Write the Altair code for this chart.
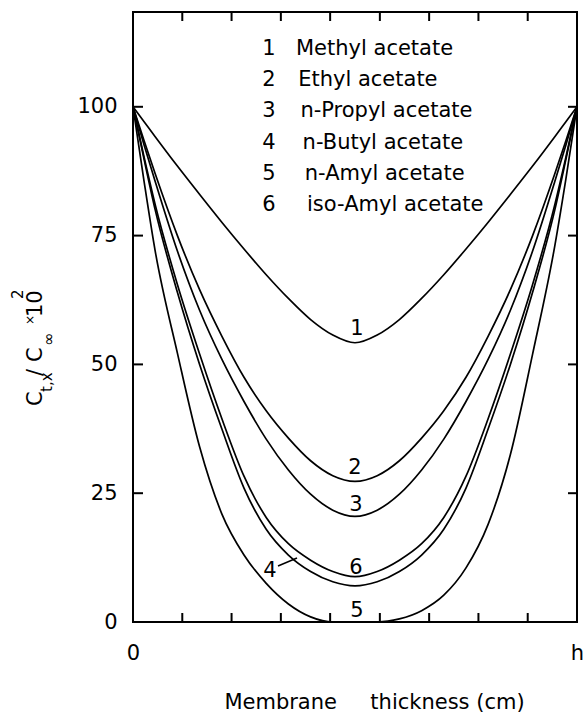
import altair as alt
import pandas as pd

# Position across the membrane, as a fraction of the thickness h
frac = [0.0, 0.025, 0.05, 0.10, 0.15, 0.20, 0.25, 0.30, 0.35, 0.40, 0.45, 0.50,
        0.55, 0.60, 0.65, 0.70, 0.75, 0.80, 0.85, 0.90, 0.95, 0.975, 1.0]

# C(t,x)/C(inf) x 10^2 for each acetate
methyl = [100, 97.1, 94.2, 88.5, 83.0, 77.6, 72.4, 67.4, 62.8, 58.7, 55.7, 54.2,
          55.7, 58.7, 62.8, 67.4, 72.4, 77.6, 83.0, 88.5, 94.2, 97.1, 100]
ethyl = [100, 93.4, 87.0, 75.0, 64.5, 55.5, 47.5, 41.0, 35.7, 31.3, 28.4, 27.3,
         28.4, 31.3, 35.7, 41.0, 47.5, 55.5, 64.5, 75.0, 87.0, 93.4, 100]
propyl = [100, 92.6, 85.5, 72.0, 60.5, 51.0, 42.8, 35.5, 29.5, 24.8, 21.7, 20.5,
          21.7, 24.8, 29.5, 35.5, 42.8, 51.0, 60.5, 72.0, 85.5, 92.6, 100]
butyl = [100, 89.8, 80.0, 64.0, 50.0, 37.5, 26.0, 18.0, 13.0, 9.8, 7.8, 7.0,
         7.8, 9.8, 13.0, 18.0, 26.0, 37.5, 50.0, 64.0, 80.0, 89.8, 100]
amyl = [100, 85.5, 72.0, 52.2, 34.0, 21.0, 13.0, 7.5, 3.5, 1.0, 0.0, 0.0,
        0.0, 0.6, 2.2, 5.2, 10.5, 19.0, 32.5, 52.0, 73.0, 86.0, 100]
isoamyl = [100, 90.2, 81.0, 65.5, 52.0, 39.5, 28.3, 20.3, 15.2, 12.0, 9.8, 8.8,
           9.8, 12.0, 15.2, 20.3, 28.3, 39.5, 52.0, 65.5, 81.0, 90.2, 100]

curve_ids = ["1", "2", "3", "4", "5", "6"]
names = ["Methyl acetate", "Ethyl acetate", "n-Propyl acetate",
         "n-Butyl acetate", "n-Amyl acetate", "iso-Amyl acetate"]
series = [methyl, ethyl, propyl, butyl, amyl, isoamyl]

y_tick_values = [0, 25, 50, 75, 100]
x_minor_ticks = [0.111, 0.222, 0.333, 0.444, 0.556, 0.667, 0.778, 0.889]
inner_y_ticks = [25, 50, 75, 100]

W, H = 444, 610
FONT = "DejaVu Sans"

rows = []
for cid, vals in zip(curve_ids, series):
    for f, v in zip(frac, vals):
        rows.append({"curve": cid, "x": f, "c": v})
df = pd.DataFrame(rows)

xscale = alt.Scale(domain=[0, 1], nice=False, zero=False)
yscale = alt.Scale(domain=[0, 118.4], nice=False, zero=False)

lines = alt.Chart(df).mark_line(
    interpolate="monotone", color="black", strokeWidth=1.7
).encode(
    x=alt.X("x:Q", scale=xscale, axis=alt.Axis(
        values=[0, 1], labelExpr="datum.value == 0 ? '0' : 'h'",
        ticks=False, domain=False, grid=False, labelFlush=False,
        labelPadding=20, labelFontSize=21, labelFont=FONT, labelColor="black",
        title="Membrane\u00a0\u00a0\u00a0\u00a0\u00a0thickness (cm)",
        titleFont=FONT, titleFontSize=21, titleFontWeight="normal",
        titleColor="black", titleX=241, titleY=86,
        titleBaseline="alphabetic", titleAlign="center")),
    y=alt.Y("c:Q", scale=yscale, axis=alt.Axis(
        values=y_tick_values, ticks=False, domain=False, grid=False,
        labelFlush=False, labelPadding=16, labelFontSize=21, labelFont=FONT,
        labelColor="black", title=None)),
    detail="curve:N",
)

# inward tick marks on all four sides of the frame
ydf = pd.DataFrame({"v": inner_y_ticks})
xdf = pd.DataFrame({"v": x_minor_ticks})
tick_style = dict(color="black", strokeWidth=2)
yt_left = alt.Chart(ydf).mark_rule(**tick_style).encode(
    y=alt.Y("v:Q", scale=yscale), x=alt.value(0), x2=alt.value(10))
yt_right = alt.Chart(ydf).mark_rule(**tick_style).encode(
    y=alt.Y("v:Q", scale=yscale), x=alt.value(W - 9), x2=alt.value(W))
xt_bottom = alt.Chart(xdf).mark_rule(**tick_style).encode(
    x=alt.X("v:Q", scale=xscale), y=alt.value(H - 9), y2=alt.value(H))
xt_top = alt.Chart(xdf).mark_rule(**tick_style).encode(
    x=alt.X("v:Q", scale=xscale), y=alt.value(0), y2=alt.value(9))

# legend block: number column and name column
leg = pd.DataFrame({"num": curve_ids, "name": names, "idx": list(range(6))})
leg_base = alt.Chart(leg).transform_calculate(
    ypix="43 + datum.idx * 31.2", xname="163 + datum.idx * 2.2")
leg_nums = leg_base.mark_text(
    font=FONT, fontSize=21, align="center", baseline="alphabetic", color="black"
).encode(text="num:N", x=alt.value(136), y=alt.Y("ypix:Q", scale=None))
leg_names = leg_base.mark_text(
    font=FONT, fontSize=21, align="left", baseline="alphabetic", color="black"
).encode(text="name:N", x=alt.X("xname:Q", scale=None),
         y=alt.Y("ypix:Q", scale=None))

# curve numbers placed near each minimum
def curve_label(t, px, py):
    return alt.Chart(pd.DataFrame({"t": [t]})).mark_text(
        font=FONT, fontSize=21, align="center", baseline="middle", color="black"
    ).encode(text="t:N", x=alt.value(px), y=alt.value(py))

labels = [
    curve_label(curve_ids[0], 224, 317),
    curve_label(curve_ids[1], 222, 456),
    curve_label(curve_ids[2], 223, 493),
    curve_label(curve_ids[5], 223, 556),
    curve_label(curve_ids[4], 224, 599),
    curve_label(curve_ids[3], 137, 559),
]
leader = alt.Chart(pd.DataFrame({"t": [0]})).mark_rule(
    color="black", strokeWidth=1.5
).encode(x=alt.value(145), y=alt.value(554), x2=alt.value(164), y2=alt.value(546))

# rotated y-axis title: C_{t,x} / C_inf x 10^2
def ytitle_piece(t, bx, sy, size):
    return alt.Chart(pd.DataFrame({"t": [t]})).mark_text(
        font=FONT, fontSize=size, angle=270, align="left",
        baseline="alphabetic", color="black"
    ).encode(text="t:N", x=alt.value(bx), y=alt.value(sy))

ytitle = [
    ytitle_piece("C", -91, 394, 21),
    ytitle_piece("t,x", -81, 380, 15),
    ytitle_piece("/", -91, 364, 21),
    ytitle_piece("C", -91, 350, 21),
    ytitle_piece("\u221e", -79, 334, 16),
    ytitle_piece("\u00d7", -99, 313, 12),
    ytitle_piece("10", -91, 305, 21),
    ytitle_piece("2", -110, 287, 15),
]

chart = alt.layer(
    lines, yt_left, yt_right, xt_bottom, xt_top, leg_nums, leg_names,
    *labels, leader, *ytitle
).properties(
    width=W, height=H,
    padding={"left": 133, "top": 12, "right": 9, "bottom": 91},
    autosize=alt.AutoSizeParams(type="none"),
    background="white",
).configure_view(stroke="black", strokeWidth=2)

chart.save("out.html", embed_options={"renderer": "svg", "actions": False})
